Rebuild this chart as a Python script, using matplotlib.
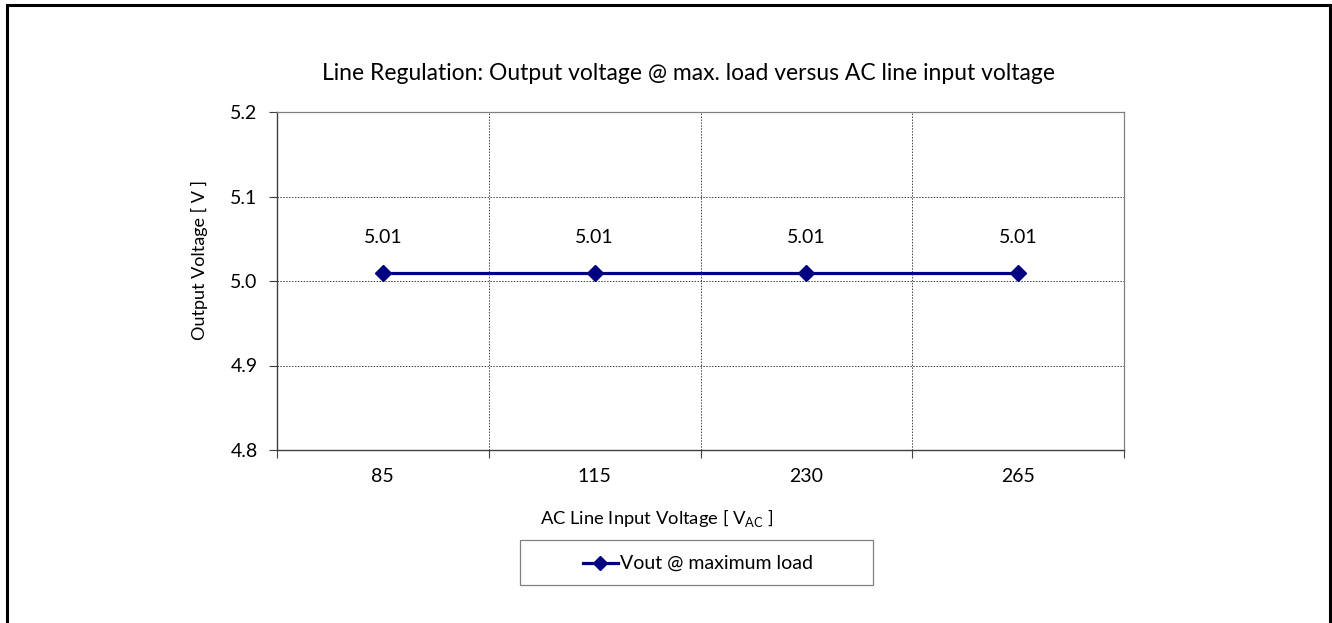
import matplotlib
matplotlib.use("Agg")
import matplotlib.pyplot as plt
from matplotlib.patches import Rectangle
from matplotlib.lines import Line2D

categories = ["85", "115", "230", "265"]
vout = [5.01, 5.01, 5.01, 5.01]
labels = ["5.01", "5.01", "5.01", "5.01"]
yticks = [4.8, 4.9, 5.0, 5.1, 5.2]

plt.rcParams['font.family'] = ['Lato', 'DejaVu Sans']

W, H = 1332, 623
fig = plt.figure(figsize=(W / 100, H / 100), dpi=100)
ax = fig.add_axes([277 / W, 1 - 450 / H, (1124 - 277) / W, (450 - 112) / H])

x = list(range(len(categories)))
ax.plot(x, vout, color="#000080", lw=2.3, marker="D", ms=8, zorder=3)
for xi, yi, lab in zip(x, vout, labels):
    ax.annotate(lab, (xi, yi), xytext=(0, 25), textcoords="offset points",
                ha="center", va="center", fontsize=14)

ax.set_xlim(-0.5, len(categories) - 0.5)
ax.set_ylim(4.8, 5.2)
ax.set_yticks(yticks)
ax.set_yticklabels([f"{v:.1f}" for v in yticks], fontsize=14)
ax.set_xticks(x)
ax.set_xticklabels(categories, fontsize=14)
ax.tick_params(axis="x", length=0, pad=13)
ax.tick_params(axis="y", length=6, width=0.8, color="#404040", pad=8)
bounds = [i + 0.5 for i in range(len(categories))]
for b in bounds[:-1]:
    ax.axvline(b, color="#404040", lw=0.7, ls=(0, (1.5, 1.5)), zorder=1)
for yv in yticks[1:-1]:
    ax.axhline(yv, color="#404040", lw=0.7, ls=(0, (1.5, 1.5)), zorder=1)
ax.set_xticks([-0.5] + bounds, minor=True)
ax.tick_params(axis="x", which="minor", length=6, width=0.8, color="#404040")

for s in ["left", "bottom"]:
    ax.spines[s].set_color("#404040")
    ax.spines[s].set_linewidth(1.0)
for s in ["top", "right"]:
    ax.spines[s].set_color("#808080")
    ax.spines[s].set_linewidth(0.9)

fig.text(689 / W, 1 - 73 / H, "Line Regulation: Output voltage @ max. load versus AC line input voltage",
         ha="center", va="center", fontsize=16.5)
fig.text(657 / W, 1 - 518 / H, r"AC Line Input Voltage [ V$_{\mathregular{AC}}$ ]",
         ha="center", va="center", fontsize=13.2)
fig.text(199 / W, 1 - 260 / H, "Output Voltage [ V ]", rotation=90,
         ha="center", va="center", fontsize=13)

# legend box
fig.patches.append(Rectangle((520 / W, 1 - 585 / H), (873 - 520) / W, 45 / H,
                             transform=fig.transFigure, fill=False,
                             edgecolor="#808080", lw=0.9))
fig.lines.append(Line2D([583 / W, 618 / W], [1 - 563 / H] * 2, transform=fig.transFigure,
                        color="#000080", lw=2.3))
fig.lines.append(Line2D([600 / W], [1 - 563 / H], transform=fig.transFigure,
                        color="#000080", marker="D", ms=7))
fig.text(620 / W, 1 - 563 / H, "Vout @ maximum load", ha="left", va="center", fontsize=14)

# outer frame
fig.patches.append(Rectangle((7 / W, -0.05), (1330 - 7) / W, 1 - 5 / H + 0.05,
                             transform=fig.transFigure, fill=False,
                             edgecolor="black", lw=2.2))

fig.savefig("out.png", dpi=100)
